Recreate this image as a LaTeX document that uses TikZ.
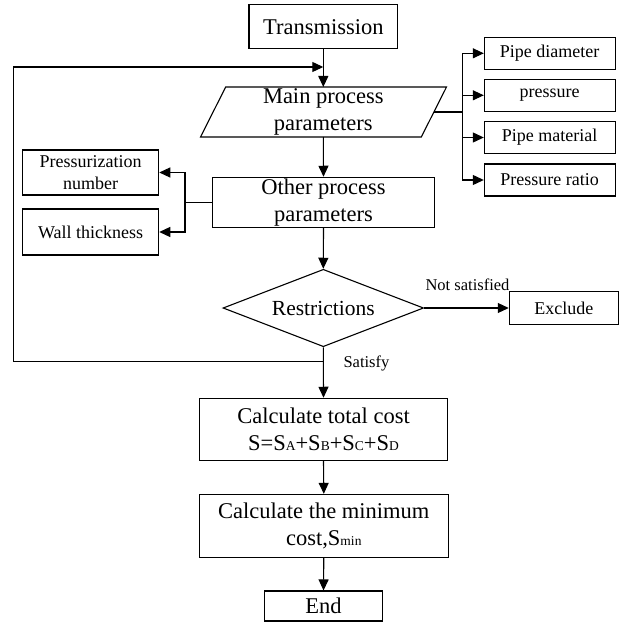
\documentclass[tikz,border=0pt]{standalone}
\usepackage{fontspec}
\setmainfont{Liberation Serif}
\usetikzlibrary{arrows.meta,shapes.geometric}
\newcommand\mysub[1]{\raisebox{-0.5pt}{\fontsize{13.5}{13.5}\selectfont #1}}
\begin{document}
\begin{tikzpicture}[x=1pt,y=-1pt,
  line width=1.1pt,
  arr/.style={-{Triangle[length=11pt,width=10pt]}},
  bigbox/.style={draw,rectangle,inner sep=0pt,align=center,font=\fontsize{22.5}{27}\selectfont},
  smallbox/.style={draw,rectangle,inner sep=0pt,align=center,font=\fontsize{18}{21.5}\selectfont},
  lbl/.style={font=\fontsize{16.5}{19}\selectfont,inner sep=0pt}]
\useasboundingbox (0,0) rectangle (620,623);

% top
\node[bigbox,minimum width=148.7pt,minimum height=44pt] (trans) at (323.3,26.7) {Transmission};
\node[align=center,inner sep=0pt,font=\fontsize{22.5}{27}\selectfont] (main) at (323.3,112) {Main process\\parameters};
\draw ([shift={(-97.6,-25)}]main.center) -- ([shift={(123.2,-25)}]main.center)
   -- ([shift={(98,25)}]main.center) -- ([shift={(-122.8,25)}]main.center) -- cycle;
\coordinate (mainT) at ([shift={(0,-25)}]main.center);
\coordinate (mainB) at ([shift={(0,25)}]main.center);
\coordinate (mainR) at ([shift={(110.6,0)}]main.center);

% right boxes
\node[smallbox,minimum width=130.7pt,minimum height=32pt] (pd) at (549.7,53.3) {Pipe diameter};
\node[smallbox,minimum width=130.7pt,minimum height=32pt] (pr) at (549.7,95.3) {pressure};
\node[smallbox,minimum width=130.7pt,minimum height=32pt] (pm) at (549.7,137.5) {Pipe material};
\node[smallbox,minimum width=130.7pt,minimum height=32pt] (prr) at (549.7,180) {Pressure ratio};
\coordinate (bR) at (462.7,112);
\draw (mainR) -- (bR);
\draw[arr] (bR) |- (pd);
\draw[arr] (bR) |- (pr);
\draw[arr] (bR) |- (pm);
\draw[arr] (bR) |- (prr);

% other
\node[bigbox,minimum width=221.6pt,minimum height=50pt] (other) at (323.5,202.3) {Other process\\parameters};
\node[smallbox,minimum width=136pt,minimum height=45pt] (pn) at (90.7,172.5) {Pressurization\\number};
\node[smallbox,minimum width=136pt,minimum height=46pt] (wt) at (90.7,232) {Wall thickness};
\coordinate (bL) at (185,202.3);
\draw (other.west) -- (bL);
\draw[arr] (bL) |- (pn);
\draw[arr] (bL) |- (wt);

% decision
\node[draw,diamond,inner sep=0pt,minimum width=200.6pt,minimum height=77.4pt,aspect=2.6,font=\fontsize{21.5}{25}\selectfont] (res) at (323.3,308) {Restrictions};
\node[smallbox,minimum width=109pt,minimum height=33.3pt] (exc) at (563.8,308) {Exclude};
\draw[arr] (res.east) -- (exc.west);
\node[lbl] (ns) at (467.5,284.3) {Not satisfied};

% bottom
\node[bigbox,minimum width=248.4pt,minimum height=62pt] (ct) at (323.5,429.3) {Calculate total cost\\S=S\mysub{A}+S\mysub{B}+S\mysub{C}+S\mysub{D}};
\node[bigbox,minimum width=249pt,minimum height=62.7pt] (cm) at (323.8,525.7) {Calculate the minimum\\cost,S\mysub{min}};
\node[bigbox,minimum width=118.4pt,minimum height=30pt] (endn) at (323.5,606) {End};

% main flow
\draw[arr] (trans.south) -- (mainT);
\draw[arr] (mainB) -- (other.north);
\draw[arr] (other.south) -- (res.north);
\draw[arr] (res.south) -- (ct.north);
\draw[arr] (ct.south) -- (cm.north);
\draw[arr] (cm.south) -- (endn.north);

% loop back
\coordinate (loopJ) at (323.3,361.7);
\coordinate (loopBL) at (13.3,361.7);
\coordinate (loopTL) at (13.3,67);
\coordinate (loopT) at (323.3,67);
\draw[arr] (loopJ) -- (loopBL) -- (loopTL) -- (loopT);
\node[lbl,anchor=west] (sat) at (343,363) {Satisfy};
\end{tikzpicture}
\end{document}
